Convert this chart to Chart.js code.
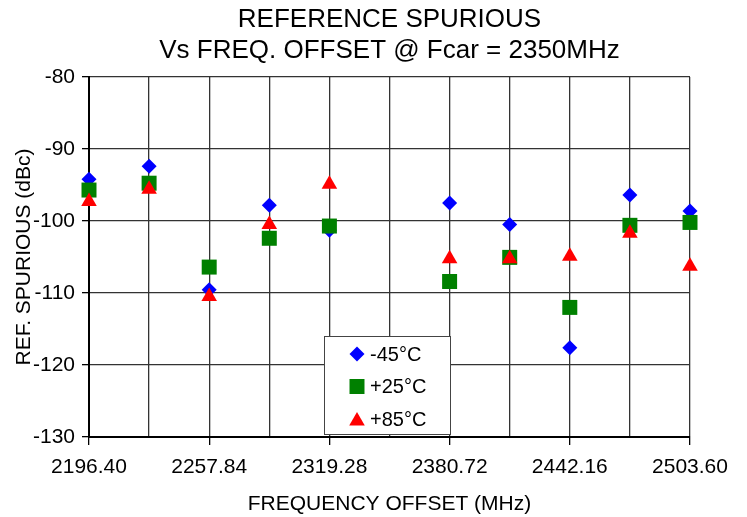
<!DOCTYPE html>
<html><head><meta charset="utf-8">
<script src="https://cdn.jsdelivr.net/npm/chart.js@4/dist/chart.umd.min.js"></script>
<style>html,body{margin:0;padding:0;background:#fff;}#wrap{width:747px;height:517px;position:relative;}</style>
</head><body><div id="wrap"><canvas id="c" width="747" height="517"></canvas></div>
<script>
const titleLines = ['REFERENCE SPURIOUS', 'Vs FREQ. OFFSET @ Fcar = 2350MHz'];
const xTitle = 'FREQUENCY OFFSET (MHz)';
const yTitle = 'REF. SPURIOUS (dBc)';
const freqs = [2196.40, 2227.12, 2257.84, 2288.56, 2319.28, 2380.72, 2411.44, 2442.16, 2472.88, 2503.60];
const xGrid = [2196.40, 2227.12, 2257.84, 2288.56, 2319.28, 2350.00, 2380.72, 2411.44, 2442.16, 2472.88, 2503.60];
const xLabels = ['2196.40', '', '2257.84', '', '2319.28', '', '2380.72', '', '2442.16', '', '2503.60'];
const seriesNames = ['-45°C', '+25°C', '+85°C'];
const m45 = [-94.2, -92.4, -109.55, -97.8, -101.3, -97.5, -100.5, -117.6, -96.4, -98.6];
const p25 = [-95.7, -94.75, -106.4, -102.4, -100.7, -108.4, -105.05, -112.0, -100.6, -100.2];
const p85 = [-97.3, -95.6, -110.5, -100.5, -94.9, -105.25, -105.25, -104.9, -101.7, -106.3];

const FONT = "'Liberation Sans', Arial, Helvetica, sans-serif";
const colors = ['#0000FF', '#008000', '#FF0000'];
const styles = ['rectRot', 'rect', 'triangle'];
const radii = [7.5, 10.6, 9];
const vals = [m45, p25, p85];

const datasets = vals.map((arr, i) => ({
  label: seriesNames[i],
  order: 3 - i,
  clip: false,
  data: arr.map((v, k) => ({x: freqs[k], y: v})),
  pointStyle: styles[i],
  pointRadius: radii[i],
  pointHoverRadius: radii[i],
  backgroundColor: colors[i],
  borderColor: colors[i],
  borderWidth: 0,
  showLine: false
}));

function drawMarker(ctx, style, x, y, r, color) {
  ctx.save();
  ctx.fillStyle = color;
  ctx.beginPath();
  if (style === 'rectRot') {
    ctx.moveTo(x, y - r); ctx.lineTo(x + r, y); ctx.lineTo(x, y + r); ctx.lineTo(x - r, y);
  } else if (style === 'rect') {
    const s = r * Math.SQRT1_2;
    ctx.rect(x - s, y - s, 2 * s, 2 * s);
  } else {
    ctx.moveTo(x, y - r);
    ctx.lineTo(x + r * Math.cos(Math.PI / 6), y + r / 2);
    ctx.lineTo(x - r * Math.cos(Math.PI / 6), y + r / 2);
  }
  ctx.closePath(); ctx.fill(); ctx.restore();
}

const overlay = {
  id: 'overlay',
  afterDraw(chart) {
    const ctx = chart.ctx; const a = chart.chartArea;
    ctx.save();
    ctx.fillStyle = '#000';
    ctx.font = '26px ' + FONT;
    ctx.textAlign = 'center'; ctx.textBaseline = 'middle';
    const cx = (a.left + a.right) / 2;
    ctx.fillText(titleLines[0], cx, 20);
    ctx.fillText(titleLines[1], cx, 51);
    // legend
    const lx = a.left + 235, ly = a.top + 259, lw = 126, lh = 98;
    ctx.fillStyle = '#fff';
    ctx.fillRect(lx, ly, lw, lh);
    ctx.strokeStyle = '#444'; ctx.lineWidth = 1;
    ctx.strokeRect(lx + 0.5, ly + 0.5, lw, lh);
    ctx.font = '20px ' + FONT; ctx.textAlign = 'left';
    for (let i = 0; i < 3; i++) {
      const yy = ly + 18 + i * 32.5;
      drawMarker(ctx, styles[i], lx + 33, yy + (i === 2 ? 2 : 0), radii[i], colors[i]);
      ctx.fillStyle = '#000';
      ctx.fillText(seriesNames[i], lx + 46, yy + 1);
    }
    ctx.restore();
  }
};

new Chart(document.getElementById('c'), {
  type: 'scatter',
  data: { datasets },
  plugins: [overlay],
  options: {
    responsive: false,
    animation: false,
    events: [],
    layout: { padding: { top: 77, right: 57, left: 0, bottom: 0 } },
    plugins: { legend: { display: false }, title: { display: false }, tooltip: { enabled: false } },
    scales: {
      x: {
        type: 'linear', min: 2196.4, max: 2503.6,
        afterBuildTicks: s => { s.ticks = xGrid.map(v => ({ value: v })); },
        afterFit: s => { s.height = 80; },
        ticks: {
          autoSkip: false, maxRotation: 0, padding: 10,
          color: '#000', font: { family: FONT, size: 21 },
          callback: (v, i) => xLabels[i]
        },
        grid: {
          color: '#333', lineWidth: 1.3, tickLength: 8,
          tickColor: ctx => (xLabels[ctx.index] ? '#000' : 'rgba(0,0,0,0)')
        },
        border: { color: '#000', width: 2 },
        title: { display: true, text: xTitle, color: '#000', font: { family: FONT, size: 21 }, padding: { top: 4, bottom: 0 } }
      },
      y: {
        min: -130, max: -80,
        ticks: { stepSize: 10, padding: 7, color: '#000', font: { family: FONT, size: 21 } },
        afterFit: s => { s.width = 89; },
        grid: { color: '#333', lineWidth: 1.3, tickLength: 7, tickColor: '#000' },
        border: { color: '#000', width: 2 },
        title: { display: true, text: yTitle, color: '#000', font: { family: FONT, size: 21 }, padding: { top: 12, bottom: 0 } }
      }
    }
  }
});
</script>
</body></html>
